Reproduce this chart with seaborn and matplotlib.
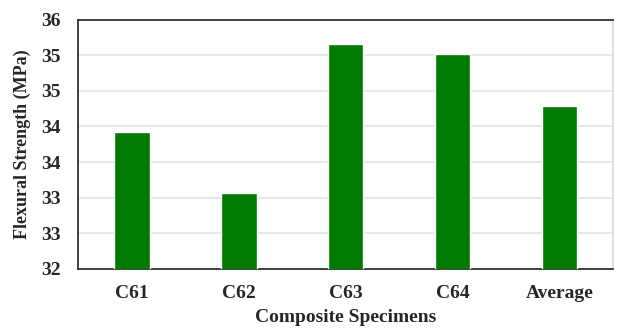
import numpy as np
import pandas as pd
import matplotlib
matplotlib.use('Agg')
import matplotlib.pyplot as plt
import seaborn as sns
from matplotlib.ticker import FormatStrFormatter

# values
specimens = ['C61', 'C62', 'C63', 'C64', 'Average']
strength = [34.20, 33.22, 35.61, 35.45, 34.62]

df = pd.DataFrame({'specimen': specimens, 'strength': strength})

sns.set_style('white')
plt.rcParams['font.family'] = ['Liberation Serif', 'DejaVu Serif']
plt.rcParams['font.weight'] = 'bold'

fig, ax = plt.subplots(figsize=(6.22, 3.29), dpi=100)
fig.subplots_adjust(left=0.126, right=0.986, top=0.94, bottom=0.183)

sns.barplot(data=df, x='specimen', y='strength', color='#007a00',
            width=0.33, saturation=1, ax=ax, zorder=3)

ax.set_ylim(32, 36)
ax.set_yticks(np.linspace(32, 36, 8))
ax.yaxis.set_major_formatter(FormatStrFormatter('%.0f'))
ax.grid(axis='y', color='#e4e4e4', linewidth=1.2, zorder=0)
ax.set_axisbelow(True)

for s in ax.spines.values():
    s.set_color('#333333')
    s.set_linewidth(1.3)
ax.spines['right'].set_color('#dddddd')

ax.tick_params(axis='x', labelsize=14, length=0, pad=12)
ax.tick_params(axis='y', labelsize=14, length=0, pad=13)
for lab in ax.get_xticklabels() + ax.get_yticklabels():
    lab.set_fontweight('bold')

ax.set_xlabel('Composite Specimens', fontsize=14, fontweight='bold', labelpad=5)
ax.set_ylabel('Flexural Strength (MPa)', fontsize=13, fontweight='bold', labelpad=7)

fig.savefig('out.png', dpi=100)
